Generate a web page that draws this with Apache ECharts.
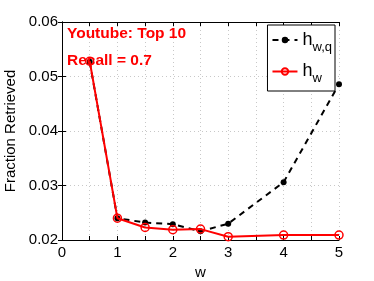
<!DOCTYPE html>
<html><head><meta charset="utf-8">
<script src="https://cdn.jsdelivr.net/npm/echarts@6/dist/echarts.min.js"></script>
<style>html,body{margin:0;padding:0;background:#fff}#c{width:374px;height:281px}</style>
</head><body><div id="c"></div>
<script>
const wValues = [0.5, 1, 1.5, 2, 2.5, 3, 4, 5];
const hwq = [0.0527, 0.0240, 0.0232, 0.0229, 0.0216, 0.0230, 0.0306, 0.0486];
const hw = [0.0528, 0.0240, 0.0223, 0.0219, 0.0220, 0.0206, 0.0209, 0.0209];
const xTickLabels = ['0','1','2','3','4','5'];
const titleLines = ['Youtube: Top 10', 'Recall = 0.7'];

const font = 'Liberation Sans, Arial, Helvetica, sans-serif';
const chart = echarts.init(document.getElementById('c'));
const pairs = (ys) => wValues.map((x,i)=> ys[i]==null ? null : [x, ys[i]]).filter(p=>p);
const legRich = {
  h: {fontSize: 18, fontFamily: font, color: '#000'},
  s: {fontSize: 13, fontFamily: font, color: '#000', verticalAlign:'bottom', padding:[14,0,0,0]}
};
chart.setOption({
  animation: false,
  backgroundColor: '#fff',
  graphic: [{
    type: 'text', left: 67, top: 20, z: 100, zlevel: 1,
    style: {text: titleLines.join('\n'), fill: '#ff0000', fontSize: 15.5, fontWeight: 'bold',
      fontFamily: font, lineHeight: 27}
  }],
  legend: {
    right: 39, top: 25, orient: 'vertical', itemWidth: 25, itemHeight: 8, itemGap: 9,
    padding: [6, 3, 6, 4],
    borderColor: '#000', borderWidth: 1, borderRadius: 0, backgroundColor: '#fff',
    textStyle: {rich: legRich},
    formatter: (name) => name === 'hwq' ? '{h|h}{s|w,q}' : '{h|h}{s|w}',
    data: ['hwq', 'hw']
  },
  grid: {left: 62, right: 35, top: 22, bottom: 41, containLabel: false, outerBoundsMode: 'none'},
  xAxis: [{
    type: 'value', min: 0, max: 5, interval: 0.5,
    name: 'w', nameLocation: 'middle', nameGap: 24,
    nameTextStyle: {fontSize: 15, fontFamily: font, color: '#000'},
    axisLine: {onZero: false, lineStyle: {color: '#000'}},
    axisTick: {inside: true, length: 4, lineStyle: {color: '#000'}},
    axisLabel: {fontSize: 15, fontFamily: font, color: '#000', margin: 5,
      formatter: v => (Math.abs(v - Math.round(v)) < 1e-9 && xTickLabels.includes(String(Math.round(v)))) ? String(Math.round(v)) : ''},
    splitLine: {show: true, lineStyle: {color: '#c8c8c8', type: [1, 3], width: 1}}
  }, {
    type: 'value', min: 0, max: 5, interval: 0.5, position: 'top',
    axisLine: {show: true, lineStyle: {color: '#000'}},
    axisTick: {inside: true, length: 4, lineStyle: {color: '#000'}},
    axisLabel: {show: false}, splitLine: {show: false}
  }],
  yAxis: [{
    type: 'value', min: 0.02, max: 0.06, interval: 0.01,
    name: 'Fraction Retrieved', nameLocation: 'middle', nameGap: 44,
    nameTextStyle: {fontSize: 15, fontFamily: font, color: '#000'},
    axisLine: {show: true, onZero: false, lineStyle: {color: '#000'}},
    axisTick: {inside: true, length: 4, lineStyle: {color: '#000'}},
    axisLabel: {fontSize: 15, fontFamily: font, color: '#000', margin: 4, formatter: v => v.toFixed(2)},
    splitLine: {show: true, lineStyle: {color: '#c8c8c8', type: [1, 3], width: 1}}
  }, {
    type: 'value', min: 0.02, max: 0.06, interval: 0.01, position: 'right',
    axisLine: {show: true, lineStyle: {color: '#000'}},
    axisTick: {inside: true, length: 4, lineStyle: {color: '#000'}},
    axisLabel: {show: false}, splitLine: {show: false}
  }],
  series: [{
    name: 'hwq', type: 'line', data: pairs(hwq),
    symbol: 'circle', symbolSize: 6, showSymbol: true,
    itemStyle: {color: '#000'},
    lineStyle: {color: '#000', width: 2, type: [6, 5]},
    z: 2
  }, {
    name: 'hw', type: 'line', data: pairs(hw),
    symbol: 'circle', symbolSize: 8,
    itemStyle: {color: 'rgba(255,255,255,0)', borderColor: '#ff0000', borderWidth: 1.5},
    lineStyle: {color: '#ff0000', width: 2},
    z: 3
  }]
});
</script></body></html>
